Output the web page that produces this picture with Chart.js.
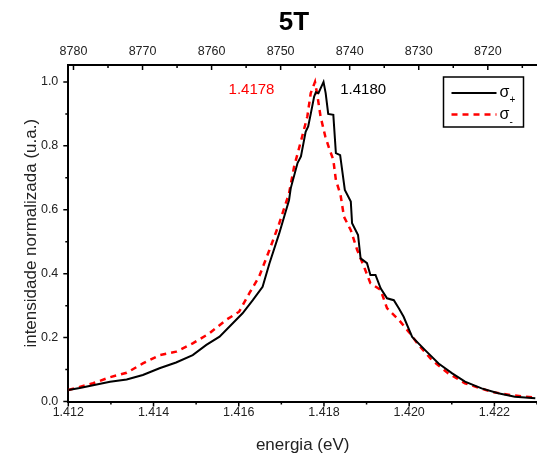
<!DOCTYPE html>
<html>
<head>
<meta charset="utf-8">
<script src="https://cdn.jsdelivr.net/npm/chart.js@4"></script>
<style>
  html, body { margin: 0; padding: 0; background: #fff; }
  #wrap { width: 537px; height: 454px; }
</style>
</head>
<body>
<div id="wrap"><canvas id="spectrum"></canvas></div>
<script>
// sigma+ (black) and sigma- (red dashed)
const sigmaPlusE = [1.41200,1.41227,1.41258,1.41298,1.41337,1.41375,1.41414,1.41453,1.41492,1.41524,1.41555,1.41586,1.41609,1.41633,1.41656,1.41672,1.41695,1.41718,1.41722,1.41738,1.41746,1.41757,1.41763,1.41769,1.41777,1.41781,1.41787,1.41799,1.41804,1.41810,1.41822,1.41828,1.41838,1.41849,1.41863,1.41866,1.41880,1.41886,1.41901,1.41909,1.41921,1.41933,1.41948,1.41964,1.41976,1.41987,1.42007,1.42038,1.42069,1.42101,1.42131,1.42170,1.42209,1.42248,1.42296];
const sigmaPlusI = [0.036,0.042,0.051,0.062,0.069,0.083,0.104,0.122,0.145,0.177,0.203,0.245,0.276,0.317,0.359,0.432,0.526,0.630,0.667,0.746,0.767,0.844,0.861,0.900,0.954,0.968,0.965,1.000,0.965,0.900,0.897,0.777,0.771,0.662,0.626,0.558,0.521,0.448,0.433,0.396,0.396,0.354,0.323,0.317,0.291,0.265,0.202,0.160,0.119,0.088,0.062,0.041,0.026,0.015,0.010];

const sigmaMinusE = [1.41200,1.41258,1.41298,1.41337,1.41375,1.41414,1.41453,1.41492,1.41531,1.41570,1.41601,1.41625,1.41648,1.41672,1.41695,1.41718,1.41730,1.41749,1.41761,1.41769,1.41779,1.41785,1.41792,1.41803,1.41812,1.41822,1.41828,1.41839,1.41847,1.41863,1.41878,1.41894,1.41909,1.41933,1.41948,1.41976,1.41999,1.42022,1.42053,1.42092,1.42131,1.42194,1.42240,1.42296];
const sigmaMinusI = [0.036,0.057,0.076,0.090,0.119,0.145,0.156,0.182,0.213,0.255,0.281,0.339,0.391,0.474,0.557,0.651,0.735,0.830,0.892,0.965,1.000,0.954,0.892,0.830,0.793,0.756,0.693,0.646,0.578,0.536,0.474,0.422,0.370,0.349,0.292,0.255,0.218,0.177,0.130,0.088,0.057,0.030,0.020,0.012];

const energyTicks = [1.412,1.414,1.416,1.418,1.420,1.422];
const energyMinor = [1.413,1.415,1.417,1.419,1.421,1.423];
const lambdaTicks = [8780,8770,8760,8750,8740,8730,8720];
const lambdaMinor = [8775,8765,8755,8745,8735,8725,8715];
const intensityTicks = [0,0.2,0.4,0.6,0.8,1.0];
const intensityMinor = [0.1,0.3,0.5,0.7,0.9];

const peakLabels = [
  {text: '1.4178', color: '#ff0000', e: 1.4163, v: 0.975},
  {text: '1.4180', color: '#000000', e: 1.41892, v: 0.975}
];
const seriesNames = ['+', '-'];

const HC = 12398.42; // eV * Angstrom
const E_MIN = 1.412, E_MAX = 1.423;
const FONT = "'Liberation Sans', Arial, sans-serif";

const toXY = (xs, ys) => xs.map((x, i) => ({x: x, y: ys[i]}));

const decorPlugin = {
  id: 'decor',
  afterDraw(chart) {
    const ctx = chart.ctx;
    const area = chart.chartArea;
    const sx = chart.scales.x, sy = chart.scales.y, st = chart.scales.x2;
    ctx.save();
    ctx.strokeStyle = '#000';
    ctx.lineWidth = 1.5;

    // bottom ticks (outward)
    ctx.beginPath();
    energyTicks.forEach(v => { const p = sx.getPixelForValue(v); ctx.moveTo(p, area.bottom); ctx.lineTo(p, area.bottom + 5); });
    energyMinor.forEach(v => { const p = sx.getPixelForValue(v); ctx.moveTo(p, area.bottom); ctx.lineTo(p, area.bottom + 3); });
    // left ticks (outward)
    intensityTicks.forEach(v => { const p = sy.getPixelForValue(v); ctx.moveTo(area.left, p); ctx.lineTo(area.left - 5, p); });
    intensityMinor.forEach(v => { const p = sy.getPixelForValue(v); ctx.moveTo(area.left, p); ctx.lineTo(area.left - 3, p); });
    // top ticks (inward)
    lambdaTicks.forEach(v => { const p = st.getPixelForValue(v); ctx.moveTo(p, area.top); ctx.lineTo(p, area.top + 5); });
    lambdaMinor.forEach(v => { const p = st.getPixelForValue(v); ctx.moveTo(p, area.top); ctx.lineTo(p, area.top + 3); });
    ctx.stroke();

    // peak labels
    ctx.font = '15px ' + FONT;
    ctx.textAlign = 'center';
    ctx.textBaseline = 'middle';
    peakLabels.forEach(l => {
      ctx.fillStyle = l.color;
      ctx.fillText(l.text, sx.getPixelForValue(l.e), sy.getPixelForValue(l.v));
    });

    // legend box
    const bx = 443.5, by = 77, bw = 80, bh = 50;
    ctx.lineWidth = 1.5;
    ctx.strokeStyle = '#000';
    ctx.fillStyle = '#fff';
    ctx.fillRect(bx, by, bw, bh);
    ctx.strokeRect(bx, by, bw, bh);
    chart.data.datasets.forEach((ds, i) => {
      const ly = by + 16 + i * 21.5;
      ctx.save();
      ctx.strokeStyle = ds.borderColor;
      ctx.lineWidth = ds.borderWidth;
      ctx.setLineDash(ds.borderDash || []);
      ctx.beginPath();
      ctx.moveTo(bx + 8, ly);
      ctx.lineTo(bx + 53, ly);
      ctx.stroke();
      ctx.restore();
      ctx.fillStyle = '#000';
      ctx.textAlign = 'left';
      ctx.textBaseline = 'alphabetic';
      ctx.font = '16px ' + FONT;
      ctx.fillText('\u03c3', bx + 56, ly + 4);
      ctx.font = '10px ' + FONT;
      ctx.fillText(seriesNames[i], bx + 66, ly + 10);
    });

    // title
    ctx.fillStyle = '#000';
    ctx.font = 'bold 26px ' + FONT;
    ctx.textAlign = 'center';
    ctx.textBaseline = 'middle';
    ctx.fillText('5T', 294, 23);
    ctx.restore();
  }
};

new Chart(document.getElementById('spectrum'), {
  type: 'line',
  data: {
    datasets: [
      {
        label: '\u03c3+',
        data: toXY(sigmaPlusE, sigmaPlusI),
        borderColor: '#000000',
        borderWidth: 2,
        pointRadius: 0,
        tension: 0,
        fill: false
      },
      {
        label: '\u03c3-',
        data: toXY(sigmaMinusE, sigmaMinusI),
        borderColor: '#ff0000',
        borderWidth: 2.5,
        borderDash: [6, 5],
        pointRadius: 0,
        tension: 0,
        fill: false
      }
    ]
  },
  options: {
    responsive: true,
    maintainAspectRatio: false,
    animation: false,
    layout: { padding: 0 },
    plugins: {
      legend: { display: false },
      tooltip: { enabled: false },
      title: { display: false }
    },
    scales: {
      x: {
        type: 'linear',
        position: 'bottom',
        min: E_MIN,
        max: E_MAX,
        afterFit: s => { s.height = 52.5; },
        afterBuildTicks: s => { s.ticks = energyTicks.map(v => ({value: v})); },
        grid: { display: false, drawTicks: false },
        border: { display: true, color: '#000', width: 2 },
        ticks: {
          padding: 4,
          color: '#222',
          font: { family: FONT, size: 12.5 },
          maxRotation: 0,
          callback: v => v.toFixed(3)
        },
        title: {
          display: true,
          text: 'energia (eV)',
          color: '#222',
          font: { family: FONT, size: 17, lineHeight: 1 },
          padding: { top: 0, bottom: 0 }
        }
      },
      x2: {
        type: 'linear',
        position: 'top',
        reverse: true,
        min: HC / E_MAX,
        max: HC / E_MIN,
        afterFit: s => { s.height = 65; },
        afterBuildTicks: s => { s.ticks = lambdaTicks.map(v => ({value: v})); },
        grid: { display: false, drawTicks: false },
        border: { display: true, color: '#000', width: 2 },
        ticks: {
          padding: 6,
          color: '#222',
          font: { family: FONT, size: 12.5 },
          maxRotation: 0,
          callback: v => String(Math.round(v))
        }
      },
      y: {
        type: 'linear',
        position: 'left',
        min: 0,
        max: 1.053,
        afterFit: s => { s.width = 68.3; },
        afterBuildTicks: s => { s.ticks = intensityTicks.map(v => ({value: v})); },
        grid: { display: false, drawTicks: false },
        border: { display: true, color: '#000', width: 2 },
        ticks: {
          padding: 10,
          color: '#222',
          font: { family: FONT, size: 12.5 },
          callback: v => v.toFixed(1)
        },
        title: {
          display: true,
          text: 'intensidade normalizada (u.a.)',
          color: '#222',
          font: { family: FONT, size: 17, lineHeight: 1 },
          padding: { top: 23, bottom: 0 }
        }
      }
    }
  },
  plugins: [decorPlugin]
});
</script>
</body>
</html>
